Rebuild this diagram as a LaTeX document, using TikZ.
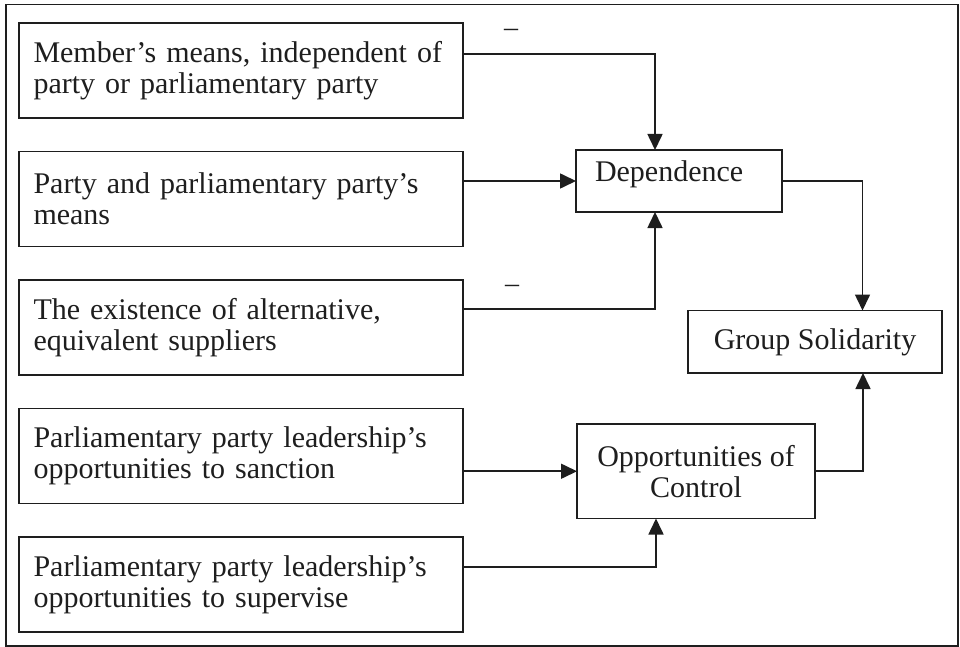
\documentclass[tikz,border=0pt]{standalone}
\usepackage{fontspec}
\setmainfont{Liberation Serif}
\usetikzlibrary{arrows.meta}
\definecolor{ink}{RGB}{30,30,30}
\begin{document}
\begin{tikzpicture}[x=1pt,y=-1pt,
  every node/.style={font=\fontsize{30}{31}\selectfont, text=ink, outer sep=0pt},
  lbox/.style={draw=ink, line width=1.6pt, rectangle, anchor=north west,
    minimum width=444pt, minimum height=95pt, text width=415pt,
    inner xsep=14.5pt, inner ysep=0pt, align=left},
  cbox/.style={draw=ink, line width=1.6pt, rectangle, anchor=north west, inner sep=0pt},
  conn/.style={draw=ink, line width=1.6pt, -{Triangle[length=16pt,width=15pt]}},
  minus/.style={font=\fontsize{28}{28}\selectfont, inner sep=0pt}
]
\useasboundingbox (0,0) rectangle (960,647);
\fill[white] (0,0) rectangle (960,647);
\draw[ink, line width=1.4pt] (6,4.5) rectangle (958,646);

\node[lbox] (b1) at (19,23)    {Member’s means, independent of\\party or parliamentary party};
\node[lbox] (b2) at (19,151.5) {Party and parliamentary party’s\\means};
\node[lbox] (b3) at (19,280)   {The existence of alternative,\\equivalent suppliers};
\node[lbox] (b4) at (19,408.5) {Parliamentary party leadership’s\\opportunities to sanction};
\node[lbox] (b5) at (19,537)   {Parliamentary party leadership’s\\opportunities to supervise};

\node[cbox, minimum width=206pt, minimum height=62pt, inner xsep=19pt,
      text width=168pt, align=left] (dep) at (576,150)
      {\rule[-20pt]{0pt}{42pt}Dependence};
\node[cbox, minimum width=254pt, minimum height=62.5pt] (grp) at (688,310.5)
      {\rule[-4.5pt]{0pt}{25.5pt}Group Solidarity};
\node[cbox, minimum width=238pt, minimum height=94.5pt, align=center] (opp) at (577,424)
      {Opportunities of\\Control};

\node[minus] (m1) at (511,33) {–};
\node[minus] (m2) at (512,289) {–};

\draw[conn] ([yshift=-31pt]b1.north east) -| ([xshift=-24pt]dep.north);
\draw[conn] (b2.east |- dep.west) -- (dep.west);
\draw[conn] ([yshift=-29pt]b3.north east) -| ([xshift=-24pt]dep.south);
\draw[conn] (dep.east) -| ([xshift=47.5pt]grp.north);
\draw[conn] (b4.east |- opp.west) -- (opp.west);
\draw[conn] ([yshift=-30pt]b5.north east) -| ([xshift=-40pt]opp.south);
\draw[conn] (opp.east) -| ([xshift=48pt]grp.south);
\end{tikzpicture}
\end{document}
